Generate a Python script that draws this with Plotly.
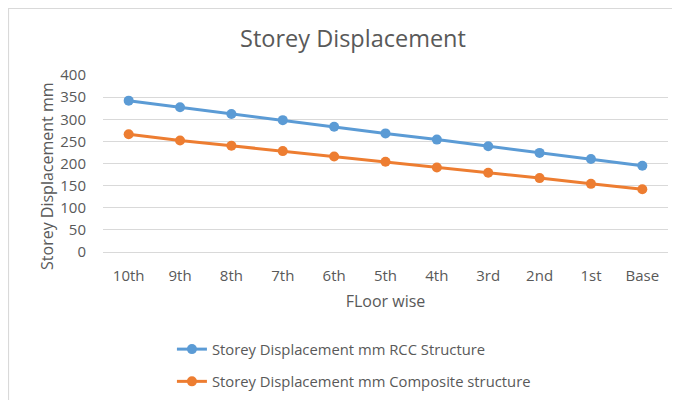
import plotly.graph_objects as go

floors = ["10th", "9th", "8th", "7th", "6th", "5th", "4th", "3rd", "2nd", "1st", "Base"]
rcc = [342, 327, 312, 298, 283, 268, 254, 239, 224, 210, 195]
composite = [266, 252, 240, 228, 216, 204, 191, 179, 167, 154, 142]
y_ticks = [0, 50, 100, 150, 200, 250, 300, 350, 400]

FONT = "Open Sans"
GRAY = "#595959"
W, H = 672, 392

fig = go.Figure()
fig.add_trace(go.Scatter(x=floors, y=rcc, mode="lines+markers",
                         name="Storey Displacement mm RCC Structure",
                         line=dict(color="#5B9BD5", width=3),
                         marker=dict(color="#5B9BD5", size=10),
                         legendgroup="a"))
fig.add_trace(go.Scatter(x=floors, y=composite, mode="lines+markers",
                         name="Storey Displacement mm Composite structure",
                         line=dict(color="#ED7D31", width=3),
                         marker=dict(color="#ED7D31", size=10),
                         legendgroup="b"))

fig.update_layout(
    width=W, height=H,
    margin=dict(l=95, r=12, t=67, b=148, autoexpand=False),
    paper_bgcolor="white", plot_bgcolor="white",
    font=dict(family=FONT, color=GRAY, size=14),
    title=dict(text="Storey Displacement", xref="container", x=345 / W,
               xanchor="center", yref="container", y=1 - 31 / H,
               yanchor="middle",
               font=dict(family=FONT, size=23.5, color=GRAY)),
    xaxis=dict(type="category", range=[-0.5, len(floors) - 0.5],
               showgrid=False, showline=False, zeroline=False,
               ticks="", ticklabelstandoff=13, automargin=False,
               tickfont=dict(size=15, color=GRAY),
               title=dict(text="FLoor wise", standoff=11,
                          font=dict(size=16, color=GRAY))),
    yaxis=dict(range=[0, 400], tickvals=y_ticks, showgrid=True,
               gridcolor="#D9D9D9", gridwidth=1, zeroline=True,
               zerolinecolor="#D9D9D9", zerolinewidth=1, showline=False,
               ticks="", ticklabelstandoff=16, automargin=False,
               tickfont=dict(size=15, color=GRAY)),
    annotations=[dict(text="Storey Displacement mm", textangle=-90,
                      xref="paper", yref="paper", x=-0.099, y=0.43,
                      xanchor="center", yanchor="middle", showarrow=False,
                      font=dict(size=16, color=GRAY, family=FONT))],
    legend=dict(orientation="v", x=0.122, xanchor="left",
                yref="container", y=1 - 325 / H,
                yanchor="top", traceorder="grouped", tracegroupgap=10,
                font=dict(size=14.8, color=GRAY), bgcolor="rgba(0,0,0,0)"),
    shapes=[dict(type="rect", xref="paper", yref="paper",
                 x0=-0.1673, x1=1.3, y0=-1.3, y1=1.3757,
                 line=dict(color="#D9D9D9", width=1.2),
                 fillcolor="rgba(0,0,0,0)", layer="below")],
)

fig.write_html("out.html")
